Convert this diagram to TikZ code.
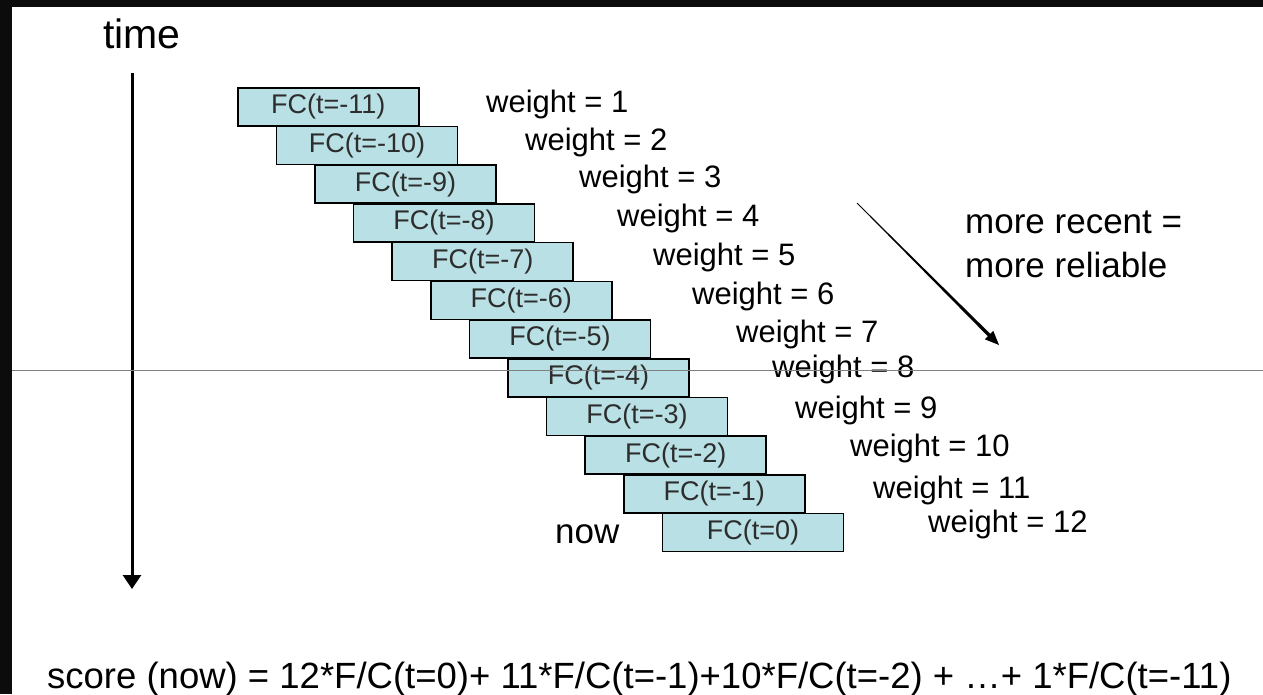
\documentclass[tikz,border=0pt]{standalone}
\usepackage{fontspec}
\setmainfont{Liberation Sans}
\usetikzlibrary{arrows.meta,calc}
\definecolor{boxfill}{RGB}{185,224,228}
\definecolor{fcgray}{RGB}{45,45,45}
\definecolor{frame}{RGB}{12,12,12}
\begin{document}
\begin{tikzpicture}[x=1pt,y=-1pt,
  fcbox/.style={draw=black, line width=1.6pt, fill=boxfill, minimum width=181pt,
    minimum height=38pt, inner sep=0pt, anchor=north west, text=fcgray,
    font=\fontsize{27}{27}\selectfont},
  wlabel/.style={anchor=base west, inner sep=0pt, font=\fontsize{31}{31}\selectfont},
  biglabel/.style={anchor=base west, inner sep=0pt, font=\fontsize{35}{35}\selectfont},
  timearrow/.style={line width=3pt, -{Triangle[length=14pt,width=18pt]}},
  rule/.style={draw=gray, line width=1pt}]
\useasboundingbox (0,0) rectangle (1263,694);
\fill[white] (0,0) rectangle (1263,694);
\fill[frame] (0,0) rectangle (1263,7);
\fill[frame] (0,0) rectangle (12,694);

% time axis
\node[anchor=base west, inner sep=0pt, font=\fontsize{41}{41}\selectfont] (time) at (103,48) {time};
\coordinate (ttop) at (132,73);
\coordinate (tbot) at (132,589);
\draw[timearrow] (ttop) -- (tbot);

% forecast boxes
\foreach \k [evaluate=\k as \t using int(\k-11)] in {0,...,11} {
  \node[fcbox] (fc\k) at ({237+38.6*\k},{87+38.7*\k}) {FC(t=\t)};
}

% weights
\foreach \x/\y/\n in {486/112/1, 525/150/2, 579/187/3, 617/226/4, 653/265/5, 692/304/6,
                      736/342/7, 772/377/8, 795/418/9, 850/456/10, 873/498/11, 928/532/12} {
  \node[wlabel] (w\n) at (\x,\y) {weight = \n};
}

\node[wlabel, font=\fontsize{35}{35}\selectfont] (now) at (555,543) {now};

% reliability arrow
\node[biglabel] (recent) at (965,233) {more recent =};
\node[biglabel] (reliable) at (965,277) {more reliable};
\coordinate (astart) at (857,203);
\coordinate (aend) at (999,345);
\coordinate (abase) at ($(astart)!0.93!(aend)$);
\fill[black] ($(astart)!0.4pt!90:(aend)$) -- ($(abase)!1.7pt!90:(aend)$)
  -- ($(abase)!6pt!90:(aend)$) -- (aend) -- ($(abase)!6pt!-90:(aend)$)
  -- ($(abase)!1.7pt!-90:(aend)$) -- ($(astart)!0.4pt!-90:(aend)$) -- cycle;

% formula
\node[anchor=base west, inner sep=0pt, font=\fontsize{36.5}{36.5}\selectfont] (score) at (47,688)
  {score (now) = 12*F/C(t=0)+ 11*F/C(t=-1)+10*F/C(t=-2) + …+ 1*F/C(t=-11)};

% horizontal rule
\coordinate (rl) at (12,370);
\coordinate (rr) at (1263,370);
\draw[rule] (rl) -- (rr);
\end{tikzpicture}
\end{document}
